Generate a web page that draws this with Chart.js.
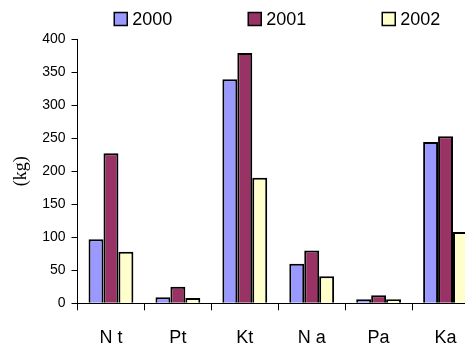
<!DOCTYPE html>
<html>
<head>
<meta charset="utf-8">
<script src="https://cdn.jsdelivr.net/npm/chart.js@4/dist/chart.umd.min.js"></script>
<style>
  html, body { margin: 0; padding: 0; background: #fff; overflow: hidden; }
  #wrap { width: 480px; height: 343px; }
</style>
</head>
<body>
<div id="wrap"><canvas id="c" width="480" height="343"></canvas></div>
<script>
// Nutrient amounts per category and year (kg)
const categories = ['N t', 'Pt', 'Kt', 'N a', 'Pa', 'Ka'];
const years = ['2000', '2001', '2002'];
const values2000 = [97, 9, 339, 60, 6, 244];
const values2001 = [227, 25, 379, 80, 12, 253];
const values2002 = [78, 8, 190, 41, 6, 108];
const yTicks = [0, 50, 100, 150, 200, 250, 300, 350, 400];

const fills = ['#9999FF', '#993366', '#FFFFCC'];
const series = [values2000, values2001, values2002];

const datasets = years.map((y, i) => ({
  label: y,
  data: series[i],
  backgroundColor: fills[i],
  borderColor: '#000000',
  borderWidth: 2,
  barPercentage: 1.0,
  categoryPercentage: 0.67
}));

// Legend row above the plot: one swatch + label per dataset, evenly spaced
const topLegend = {
  id: 'topLegend',
  afterDraw(chart) {
    const ctx = chart.ctx;
    const area = chart.chartArea;
    const cx = (area.left + area.right) / 2;
    const step = 134;
    const box = 13;
    ctx.save();
    ctx.font = '18px "Liberation Sans", Arial, sans-serif';
    ctx.textBaseline = 'middle';
    ctx.textAlign = 'left';
    chart.data.datasets.forEach((ds, i) => {
      const x = cx - 164 + i * step;
      const y = 12.5;
      ctx.fillStyle = ds.backgroundColor;
      ctx.fillRect(x, y, box, box);
      ctx.lineWidth = 1.5;
      ctx.strokeStyle = ds.borderColor;
      ctx.strokeRect(x, y, box, box);
      ctx.fillStyle = '#000';
      ctx.fillText(ds.label, x + 18, y + box / 2 + 1);
    });
    ctx.restore();
  }
};

new Chart(document.getElementById('c'), {
  type: 'bar',
  data: { labels: categories, datasets },
  plugins: [topLegend],
  options: {
    responsive: false,
    animation: false,
    layout: { padding: { top: 39, right: 1, bottom: 0, left: 0 } },
    plugins: {
      legend: { display: false },
      tooltip: { enabled: false }
    },
    scales: {
      x: {
        afterFit: s => { s.height = 39.7; },
        grid: {
          display: true,
          drawOnChartArea: false,
          drawTicks: true,
          tickLength: 7,
          color: '#000',
          offset: true
        },
        border: { display: true, color: '#000', width: 1 },
        ticks: {
          color: '#000',
          padding: 17,
          font: { family: 'Liberation Sans, Arial, sans-serif', size: 18 }
        }
      },
      y: {
        min: 0,
        max: 400,
        afterBuildTicks: s => { s.ticks = yTicks.map(v => ({ value: v })); },
        afterFit: s => { s.width = 77.5; },
        grid: {
          display: true,
          drawOnChartArea: false,
          drawTicks: true,
          tickLength: 6,
          color: '#000'
        },
        border: { display: true, color: '#000', width: 1 },
        ticks: {
          autoSkip: false,
          color: '#000',
          padding: 6,
          font: { family: 'Liberation Sans, Arial, sans-serif', size: 14 }
        },
        title: {
          display: true,
          text: '(kg)',
          color: '#000',
          padding: { top: 10, bottom: 4 },
          font: { family: 'Liberation Serif, Times New Roman, serif', size: 18 }
        }
      }
    }
  }
});
</script>
</body>
</html>
